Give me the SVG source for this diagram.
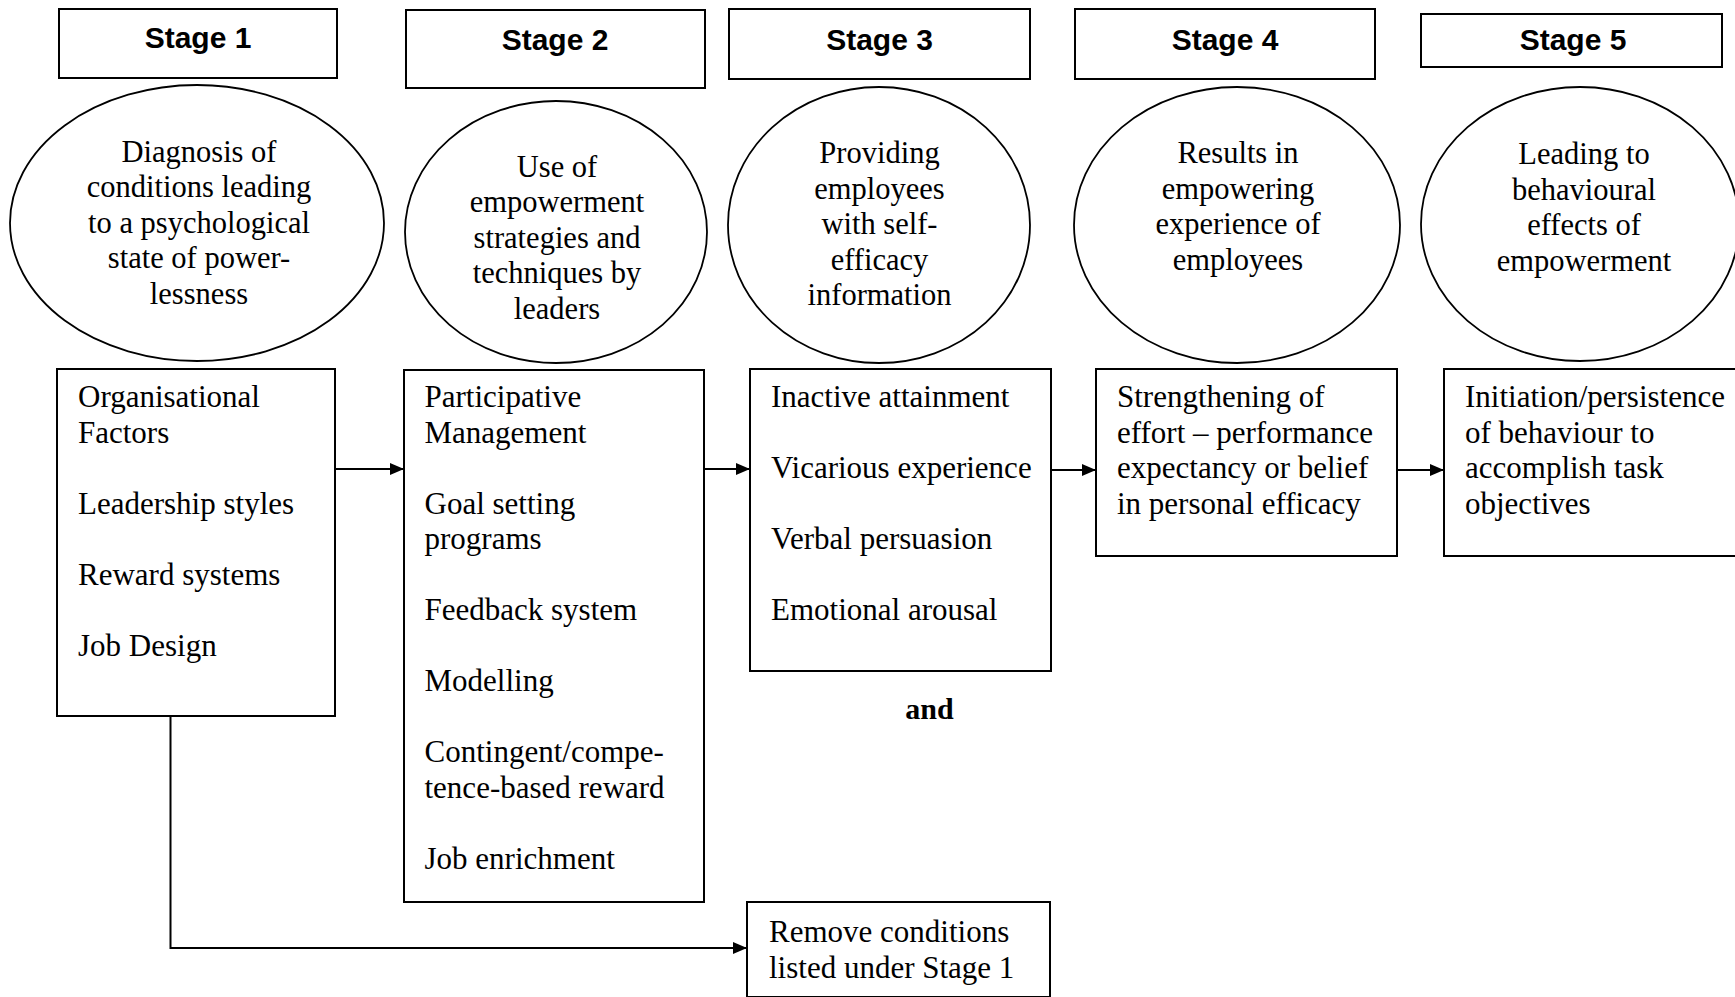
<svg xmlns="http://www.w3.org/2000/svg" width="1735" height="997" viewBox="0 0 1735 997">
<style>
.box{fill:#fff;stroke:#000;stroke-width:2}
.ell{fill:#fff;stroke:#000;stroke-width:1.8}
.st{font-family:"Liberation Sans",Arial,sans-serif;font-weight:bold;font-size:30px;text-anchor:middle;fill:#000}
.et{font-family:"Liberation Serif","Times New Roman",serif;font-size:30.5px;text-anchor:middle;fill:#000}
.bt{font-family:"Liberation Serif","Times New Roman",serif;font-size:31px;fill:#000}
.and{font-family:"Liberation Serif","Times New Roman",serif;font-size:30px;font-weight:bold;text-anchor:middle;fill:#000}
.conn{fill:none;stroke:#000;stroke-width:2}
</style>
<defs>
<marker id="arr" markerUnits="userSpaceOnUse" markerWidth="14" markerHeight="12" refX="14" refY="6" orient="auto">
<path d="M0,0 L14,6 L0,12 z" fill="#000"/>
</marker>
</defs>
<rect width="1735" height="997" fill="#fff"/>

<g id="stage1">
<rect class="box" x="59" y="9" width="278" height="69"/>
<text class="st" x="198" y="48">Stage 1</text>
</g>
<g id="stage2">
<rect class="box" x="406" y="10" width="299" height="78"/>
<text class="st" x="555" y="50">Stage 2</text>
</g>
<g id="stage3">
<rect class="box" x="729" y="9" width="301" height="70"/>
<text class="st" x="879.5" y="50">Stage 3</text>
</g>
<g id="stage4">
<rect class="box" x="1075" y="9" width="300" height="70"/>
<text class="st" x="1225" y="50">Stage 4</text>
</g>
<g id="stage5">
<rect class="box" x="1421" y="14" width="301" height="53"/>
<text class="st" x="1573" y="50">Stage 5</text>
</g>

<g id="ellipse1">
<ellipse class="ell" cx="197" cy="223" rx="187" ry="138"/>
<text class="et" x="199" y="161.5">Diagnosis of</text>
<text class="et" x="199" y="197">conditions leading</text>
<text class="et" x="199" y="232.5">to a psychological</text>
<text class="et" x="199" y="268">state of power-</text>
<text class="et" x="199" y="303.5">lessness</text>
</g>
<g id="ellipse2">
<ellipse class="ell" cx="556" cy="232" rx="151" ry="131"/>
<text class="et" x="557" y="176.5">Use of</text>
<text class="et" x="557" y="212">empowerment</text>
<text class="et" x="557" y="247.5">strategies and</text>
<text class="et" x="557" y="283">techniques by</text>
<text class="et" x="557" y="318.5">leaders</text>
</g>
<g id="ellipse3">
<ellipse class="ell" cx="879" cy="225" rx="151" ry="138"/>
<text class="et" x="879.5" y="163">Providing</text>
<text class="et" x="879.5" y="198.5">employees</text>
<text class="et" x="879.5" y="234">with self-</text>
<text class="et" x="879.5" y="269.5">efficacy</text>
<text class="et" x="879.5" y="305">information</text>
</g>
<g id="ellipse4">
<ellipse class="ell" cx="1237" cy="225" rx="163" ry="138"/>
<text class="et" x="1238" y="163">Results in</text>
<text class="et" x="1238" y="198.5">empowering</text>
<text class="et" x="1238" y="234">experience of</text>
<text class="et" x="1238" y="269.5">employees</text>
</g>
<g id="ellipse5">
<ellipse class="ell" cx="1580" cy="224" rx="159" ry="137"/>
<text class="et" x="1584" y="164">Leading to</text>
<text class="et" x="1584" y="199.5">behavioural</text>
<text class="et" x="1584" y="235">effects of</text>
<text class="et" x="1584" y="270.5">empowerment</text>
</g>

<g id="box1">
<rect class="box" x="57" y="369" width="278" height="347"/>
<text class="bt" x="78" y="407">Organisational</text>
<text class="bt" x="78" y="442.5">Factors</text>
<text class="bt" x="78" y="513.5">Leadership styles</text>
<text class="bt" x="78" y="584.5">Reward systems</text>
<text class="bt" x="78" y="655.5">Job Design</text>
</g>
<g id="box2">
<rect class="box" x="404" y="370" width="300" height="532"/>
<text class="bt" x="424.5" y="407">Participative</text>
<text class="bt" x="424.5" y="442.5">Management</text>
<text class="bt" x="424.5" y="513.5">Goal setting</text>
<text class="bt" x="424.5" y="549">programs</text>
<text class="bt" x="424.5" y="620">Feedback system</text>
<text class="bt" x="424.5" y="691">Modelling</text>
<text class="bt" x="424.5" y="762">Contingent/compe-</text>
<text class="bt" x="424.5" y="797.5">tence-based reward</text>
<text class="bt" x="424.5" y="868.5">Job enrichment</text>
</g>
<g id="box3">
<rect class="box" x="750" y="369" width="301" height="302"/>
<text class="bt" x="771" y="407">Inactive attainment</text>
<text class="bt" x="771" y="478">Vicarious experience</text>
<text class="bt" x="771" y="549">Verbal persuasion</text>
<text class="bt" x="771" y="620">Emotional arousal</text>
</g>
<g id="box4">
<rect class="box" x="1096" y="369" width="301" height="187"/>
<text class="bt" x="1117" y="407">Strengthening of</text>
<text class="bt" x="1117" y="442.5">effort – performance</text>
<text class="bt" x="1117" y="478">expectancy or belief</text>
<text class="bt" x="1117" y="513.5">in personal efficacy</text>
</g>
<g id="box5">
<rect class="box" x="1444" y="369" width="300" height="187"/>
<text class="bt" x="1465" y="407">Initiation/persistence</text>
<text class="bt" x="1465" y="442.5">of behaviour to</text>
<text class="bt" x="1465" y="478">accomplish task</text>
<text class="bt" x="1465" y="513.5">objectives</text>
</g>
<g id="and-label">
<text class="and" x="929.5" y="719">and</text>
</g>
<g id="box6">
<rect class="box" x="747" y="902" width="303" height="95"/>
<text class="bt" x="769" y="941.5">Remove conditions</text>
<text class="bt" x="769" y="977.5">listed under Stage 1</text>
</g>

<g id="connectors">
<path class="conn" d="M335,469 H404" marker-end="url(#arr)"/>
<path class="conn" d="M704,469 H750" marker-end="url(#arr)"/>
<path class="conn" d="M1051,470 H1096" marker-end="url(#arr)"/>
<path class="conn" d="M1397,470 H1444" marker-end="url(#arr)"/>
<path class="conn" d="M170.5,716 V948 H747" marker-end="url(#arr)"/>
</g>
</svg>
